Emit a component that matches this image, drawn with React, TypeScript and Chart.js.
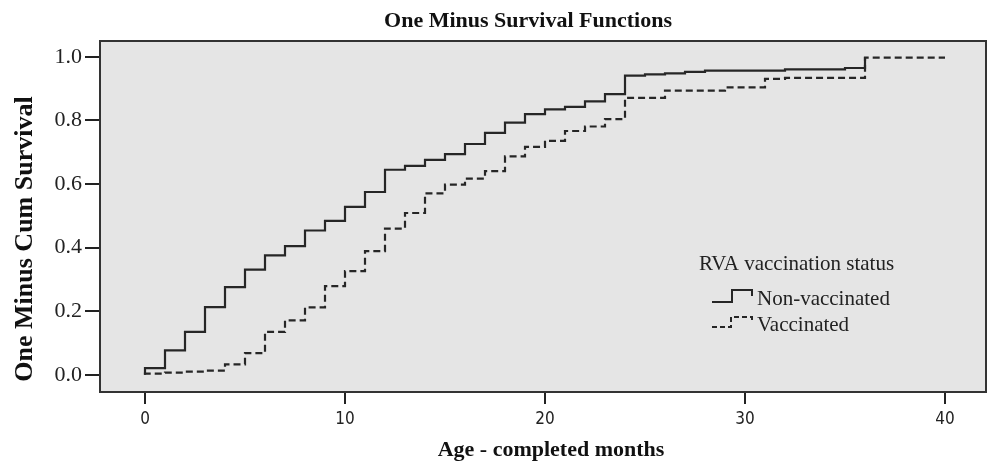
import React, { useEffect, useRef } from "react";
import { Chart, registerables } from "chart.js";

Chart.register(...registerables);

const nonVaccTimes = [0, 0, 1, 2, 3, 4, 5, 6, 7, 8, 9, 10, 11, 12, 13, 14, 15, 16, 17, 18, 19, 20, 21, 22, 23, 24, 25, 26, 27, 28, 32, 35, 36];
const nonVaccValues = [0, 0.021, 0.077, 0.135, 0.213, 0.276, 0.331, 0.376, 0.405, 0.454, 0.484, 0.528, 0.575, 0.645, 0.657, 0.676, 0.694, 0.726, 0.761, 0.793, 0.82, 0.835, 0.843, 0.86, 0.883, 0.941, 0.945, 0.948, 0.953, 0.957, 0.961, 0.965, 1.0];

const vaccTimes = [0, 0, 1, 2, 3, 4, 5, 6, 7, 8, 9, 10, 11, 12, 13, 14, 15, 16, 17, 18, 19, 20, 21, 22, 23, 24, 26, 29, 31, 32, 36, 40];
const vaccValues = [0, 0.004, 0.007, 0.01, 0.013, 0.033, 0.068, 0.135, 0.171, 0.212, 0.279, 0.326, 0.389, 0.46, 0.509, 0.571, 0.598, 0.617, 0.641, 0.687, 0.717, 0.736, 0.767, 0.781, 0.804, 0.871, 0.894, 0.904, 0.931, 0.934, 0.998, 0.998];

const xTicks = [0, 10, 20, 30, 40];
const yTicks = [0, 0.2, 0.4, 0.6, 0.8, 1.0];

const chartTitle = "One Minus Survival Functions";
const xTitle = "Age - completed months";
const yTitle = "One Minus Cum Survival";
const legendTitle = "RVA vaccination status";
const seriesNames = ["Non-vaccinated", "Vaccinated"];

const SERIF = '"Liberation Serif", "Times New Roman", serif';
const NARROW = '"Liberation Sans Narrow", "Arial Narrow", "DejaVu Sans Condensed", sans-serif';
const LINE = "#262626";

const decorPlugin = {
  id: "decor",
  beforeDatasetsDraw(chart: any) {
    const { ctx, chartArea: a } = chart;
    ctx.save();
    ctx.fillStyle = "#e5e5e5";
    ctx.fillRect(a.left, a.top, a.right - a.left, a.bottom - a.top);
    ctx.restore();
  },
  afterDraw(chart: any) {
    const { ctx, chartArea: a } = chart;
    ctx.save();
    ctx.strokeStyle = "#333333";
    ctx.lineWidth = 2;
    ctx.setLineDash([]);
    ctx.strokeRect(a.left, a.top, a.right - a.left, a.bottom - a.top);

    ctx.fillStyle = "#111111";
    ctx.textBaseline = "alphabetic";
    ctx.font = `bold 22px ${SERIF}`;
    ctx.textAlign = "center";
    ctx.fillText(chartTitle, 528, 27);
    ctx.fillText(xTitle, 551, 456);

    ctx.save();
    ctx.translate(32, 239);
    ctx.rotate(-Math.PI / 2);
    ctx.font = `bold 26px ${SERIF}`;
    ctx.fillText(yTitle, 0, 0);
    ctx.restore();

    // legend
    ctx.textAlign = "left";
    ctx.font = `21px ${SERIF}`;
    ctx.fillStyle = "#222222";
    ctx.fillText(legendTitle, 699, 270);
    ctx.fillText(seriesNames[0], 757, 305);
    ctx.fillText(seriesNames[1], 757, 331);

    ctx.strokeStyle = LINE;
    ctx.lineWidth = 2;
    ctx.beginPath();
    ctx.moveTo(712, 302);
    ctx.lineTo(732, 302);
    ctx.lineTo(732, 290);
    ctx.lineTo(752, 290);
    ctx.lineTo(752, 296);
    ctx.stroke();

    ctx.setLineDash([5, 3]);
    ctx.beginPath();
    ctx.moveTo(712, 327);
    ctx.lineTo(731, 327);
    ctx.lineTo(731, 317);
    ctx.lineTo(752, 317);
    ctx.lineTo(752, 323);
    ctx.stroke();
    ctx.restore();
  },
};

export default function App() {
  const ref = useRef<HTMLCanvasElement | null>(null);

  useEffect(() => {
    if (!ref.current) return;
    const chart = new Chart(ref.current, {
      type: "line",
      data: {
        datasets: [
          {
            label: seriesNames[0],
            data: nonVaccTimes.map((t, i) => ({ x: t, y: nonVaccValues[i] })),
            borderColor: LINE,
            borderWidth: 2.2,
            stepped: "before",
            pointRadius: 0,
            fill: false,
          },
          {
            label: seriesNames[1],
            data: vaccTimes.map((t, i) => ({ x: t, y: vaccValues[i] })),
            borderColor: LINE,
            borderWidth: 2.2,
            borderDash: [7, 4],
            stepped: "before",
            pointRadius: 0,
            fill: false,
          },
        ],
      },
      options: {
        animation: false,
        responsive: false,
        devicePixelRatio: 1,
        layout: { padding: { top: 41, right: 4, left: 0, bottom: 0 } },
        plugins: {
          legend: { display: false },
          title: { display: false },
          tooltip: { enabled: false },
        },
        scales: {
          x: {
            type: "linear",
            min: -2.25,
            max: 42.05,
            afterBuildTicks: (s: any) => {
              s.ticks = xTicks.map((v) => ({ value: v }));
            },
            afterFit: (s: any) => {
              s.height = 69;
            },
            ticks: {
              autoSkip: false,
              maxRotation: 0,
              padding: 5,
              color: "#222222",
              font: { family: NARROW, size: 17 },
              callback: (v: any) => String(v),
            },
            grid: {
              drawOnChartArea: false,
              drawTicks: true,
              tickLength: 12,
              color: "#222222",
              lineWidth: 2,
            },
            border: { display: true, color: "#333333", width: 2 },
          },
          y: {
            type: "linear",
            min: -0.054,
            max: 1.05,
            afterBuildTicks: (s: any) => {
              s.ticks = yTicks.map((v) => ({ value: v }));
            },
            afterFit: (s: any) => {
              s.width = 100;
            },
            ticks: {
              autoSkip: false,
              padding: 3,
              color: "#222222",
              font: { family: SERIF, size: 22 },
              callback: (v: any) => Number(v).toFixed(1),
            },
            grid: {
              drawOnChartArea: false,
              drawTicks: true,
              tickLength: 15,
              color: "#222222",
              lineWidth: 2,
            },
            border: { display: true, color: "#333333", width: 2 },
          },
        },
      },
      plugins: [decorPlugin],
    });
    return () => chart.destroy();
  }, []);

  return (
    <div style={{ position: "absolute", left: 0, top: 0, width: 990, height: 461, background: "#ffffff" }}>
      <canvas ref={ref} width={990} height={461} style={{ display: "block", width: 990, height: 461 }} />
    </div>
  );
}
